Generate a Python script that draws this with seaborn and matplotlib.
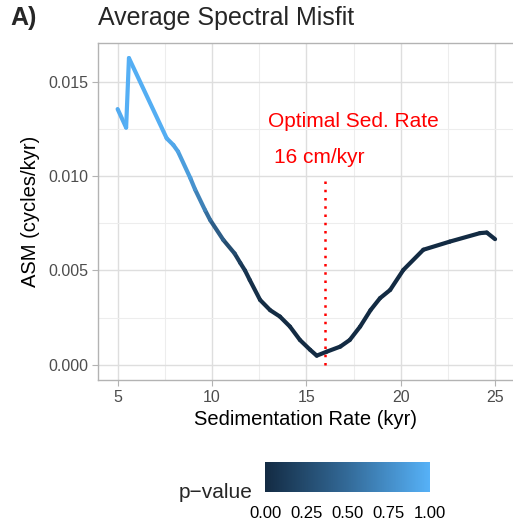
import numpy as np
import pandas as pd
import matplotlib
matplotlib.use("Agg")
import matplotlib.pyplot as plt
import seaborn as sns
from matplotlib.colors import LinearSegmentedColormap, Normalize
from matplotlib.cm import ScalarMappable

# ---------------- data ----------------
sed_rate = [5.0, 5.45, 5.6, 7.6, 7.95, 8.2, 8.85, 9.1, 9.63, 9.9, 10.6, 11.2, 11.5,
            11.75, 12.0, 12.55, 13.08, 13.6, 14.13, 14.66, 15.2, 15.55, 16.08, 16.8,
            17.3, 17.85, 18.4, 18.9, 19.44, 20.14, 21.2, 22.6, 24.2, 24.56, 25.0]
asm = [0.01355, 0.01257, 0.01625, 0.0120, 0.01165, 0.0113, 0.0099, 0.0093, 0.0082,
       0.00768, 0.00662, 0.0059, 0.0054, 0.0050, 0.0045, 0.00344, 0.0029, 0.00256,
       0.00203, 0.00132, 0.0008, 0.00049, 0.0007, 0.00097, 0.00132, 0.00203, 0.0029,
       0.00353, 0.00397, 0.00503, 0.0061, 0.00653, 0.00698, 0.00701, 0.00666]
p_value = [0.95, 0.97, 1.0, 0.95, 0.92, 0.9, 0.82, 0.75, 0.58, 0.48, 0.32, 0.2, 0.12,
           0.08, 0.05, 0.02, 0.0, 0.0, 0.0, 0.0, 0.0, 0.0, 0.0, 0.0, 0.0, 0.0, 0.0,
           0.0, 0.0, 0.0, 0.0, 0.0, 0.0, 0.0, 0.0]
optimal_rate = 16
x_ticks = [5, 10, 15, 20, 25]
y_ticks = [0.000, 0.005, 0.010, 0.015]
cbar_ticks = [0.0, 0.25, 0.5, 0.75, 1.0]

# segment table (each pair of consecutive points, coloured by mean p-value)
rows = []
for i in range(len(sed_rate) - 1):
    pv = (p_value[i] + p_value[i + 1]) / 2
    rows.append(dict(seg=i, x=sed_rate[i], y=asm[i], p=pv))
    rows.append(dict(seg=i, x=sed_rate[i + 1], y=asm[i + 1], p=pv))
seg_df = pd.DataFrame(rows)

# ---------------- style ----------------
sns.set_theme(style="white")
plt.rcParams["font.family"] = ["Liberation Sans", "DejaVu Sans"]

cmap = LinearSegmentedColormap.from_list("gg", ["#132B43", "#336A98", "#56B1F7"])
norm = Normalize(0, 1)

fig = plt.figure(figsize=(5.13, 5.24), dpi=100)
ax = fig.add_axes([98 / 513, 1 - 380 / 524, 1 - 98 / 513, (380 - 43) / 524])

sns.lineplot(data=seg_df, x="x", y="y", hue="p", units="seg", estimator=None,
             palette=cmap, hue_norm=norm, legend=False, linewidth=3.0,
             solid_capstyle="round", ax=ax, zorder=3)

ax.plot([optimal_rate, optimal_rate], [0.0, 0.0100], color="red", lw=1.8,
        linestyle=(0, (1, 2.3)), zorder=4)
ax.text(12.97, 0.01287, "Optimal Sed. Rate", color="red", fontsize=15,
        ha="left", va="center")
ax.text(13.3, 0.01096, "16 cm/kyr", color="red", fontsize=15,
        ha="left", va="center")

ax.set_xlim(3.96, 25.95)
ax.set_ylim(-0.0008, 0.01705)
ax.set_xticks(x_ticks)
ax.set_yticks(y_ticks)
ax.set_xticks([7.5, 12.5, 17.5, 22.5], minor=True)
ax.set_yticks([0.0025, 0.0075, 0.0125], minor=True)
ax.set_yticklabels([f"{v:.3f}" for v in y_ticks])
ax.grid(True, which="major", color="#DEDEDE", lw=1.0)
ax.grid(True, which="minor", color="#EDEDED", lw=0.8)
ax.set_axisbelow(True)
for s in ax.spines.values():
    s.set_color("#B3B3B3")
    s.set_linewidth(1.0)
ax.spines["right"].set_visible(False)
ax.tick_params(axis="both", which="major", length=4, width=0.8, color="#B3B3B3",
               labelsize=11.5, labelcolor="#4D4D4D", direction="out", pad=3,
               bottom=True, left=True)
ax.tick_params(which="minor", length=0)
ax.set_xlabel("Sedimentation Rate (kyr)", fontsize=14.5, color="black", labelpad=4)
ax.set_ylabel("ASM (cycles/kyr)", fontsize=14.5, color="black", labelpad=6)

fig.text(98 / 513, 1 - 18 / 524, "Average Spectral Misfit", fontsize=18,
         ha="left", va="center")
fig.text(10 / 513, 1 - 18 / 524, "A)", fontsize=18, fontweight="bold",
         ha="left", va="center")

# colourbar legend
cax = fig.add_axes([265 / 513, 1 - 492 / 524, 165 / 513, 30 / 524])
sm = ScalarMappable(norm=norm, cmap=cmap)
cb = fig.colorbar(sm, cax=cax, orientation="horizontal", ticks=cbar_ticks)
cb.outline.set_visible(False)
cax.tick_params(axis="x", direction="in", length=6, width=1.0, color="white",
                top=True, bottom=True, labelsize=12, labelcolor="black", pad=10)
cb.set_ticklabels([f"{t:.2f}" for t in cbar_ticks])
fig.text(253 / 513, 1 - 492 / 524, "p\u2212value", fontsize=15, ha="right",
         va="center")

fig.savefig("out.png", dpi=100)
